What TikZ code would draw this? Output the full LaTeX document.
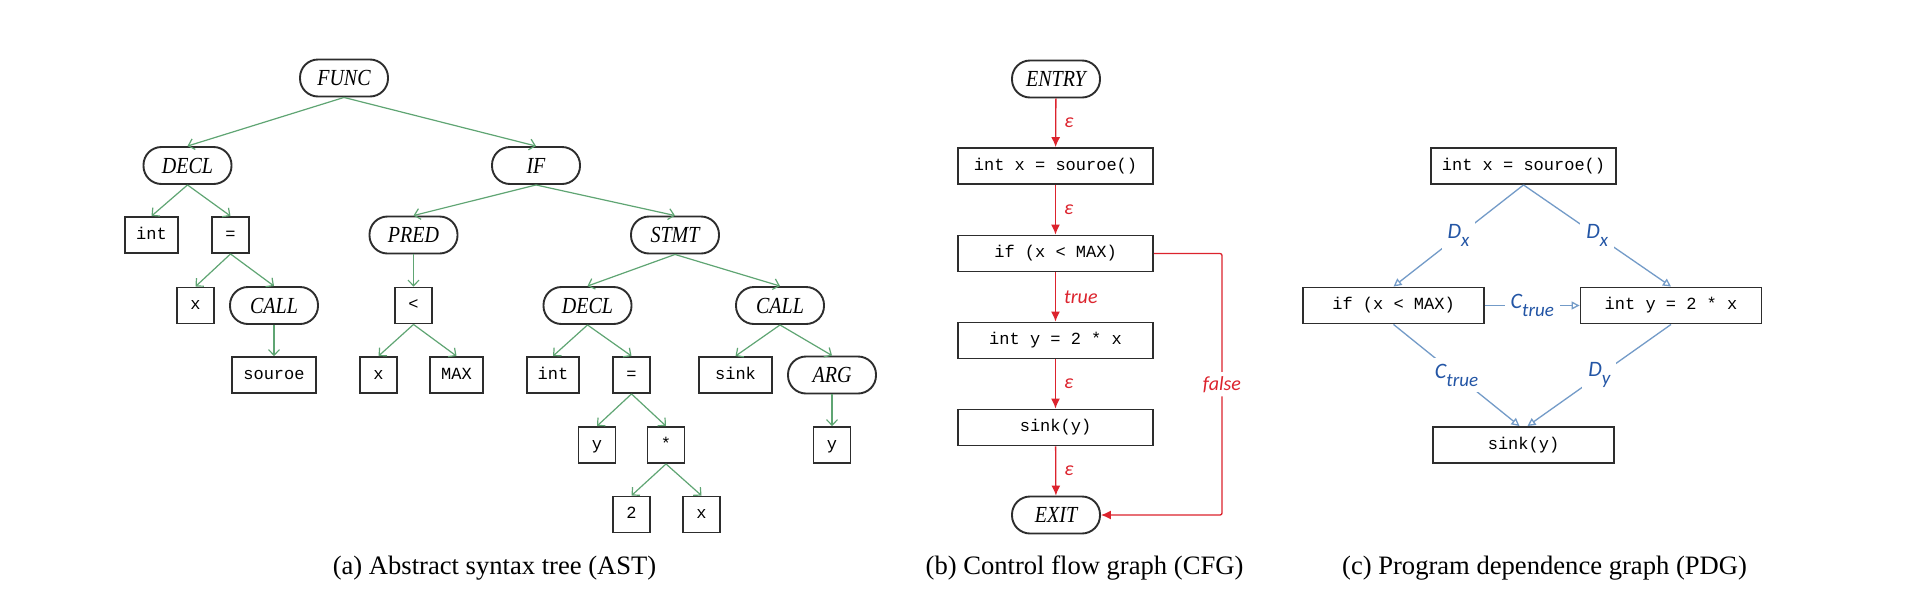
\documentclass[tikz,border=0pt]{standalone}
\usepackage{fontspec}
\setmainfont{Liberation Serif}
\newfontfamily\kwfont{Liberation Serif}[FakeStretch=0.87]
\newfontfamily\codefont{Liberation Mono}
\newfontfamily\lblfont{Carlito}
\usetikzlibrary{arrows.meta}
\definecolor{astgreen}{RGB}{95,165,115}
\definecolor{cfgred}{RGB}{220,35,45}
\definecolor{pdgline}{RGB}{115,155,200}
\definecolor{pdgtext}{RGB}{35,85,165}
\definecolor{boxline}{RGB}{45,45,45}
\newcommand\lblsub[2]{#1\raisebox{-4pt}{\fontsize{9.5}{9.5}\selectfont #2}}
\begin{document}
\begin{tikzpicture}[x=0.5pt,y=-0.5pt,
  base/.style={draw=boxline, line width=0.95pt, fill=white},
  kw/.style={base, rounded corners=9pt, minimum width=44pt, minimum height=18.5pt,
    inner sep=0pt, font=\kwfont\itshape\fontsize{11.5}{12}\selectfont},
  code/.style={base, minimum width=18.5pt, minimum height=18pt, inner xsep=5.5pt,
    inner ysep=0pt, text height=6pt, text depth=1.6pt,
    font=\codefont\fontsize{8.5}{10}\selectfont},
  cfgbox/.style={code, minimum width=97.5pt},
  pdgbox/.style={code, minimum width=90.5pt},
  astedge/.style={draw=astgreen, line width=0.6pt, -{Straight Barb[length=2.8pt,width=5.5pt]}},
  cfgedge/.style={draw=cfgred, line width=0.65pt, -{Latex[length=5pt,width=4.5pt]}},
  cfglbl/.style={text=cfgred, font=\lblfont\itshape\fontsize{10}{11}\selectfont, inner sep=1pt},
  pdgedge/.style={draw=pdgline, line width=0.65pt, -{Triangle[open,length=4pt,width=4pt]}},
  pdglbl/.style={text=pdgtext, fill=white, inner sep=3pt, font=\lblfont\itshape\fontsize{11}{11}\selectfont},
  captext/.style={font=\fontsize{13.3}{15}\selectfont, inner sep=0pt}
]
\fill[white] (0,0) rectangle (1920,600);
\useasboundingbox (0,0) rectangle (1920,600);

% ---------------- AST ----------------
\node[kw] (func) at (344,78) {FUNC};
\node[kw] (decl1) at (187.5,165.5) {DECL};
\node[kw] (if) at (536,165.5) {IF};
\node[code] (int1) at (151.5,235) {int};
\node[code] (eq1) at (230.5,235) {=};
\node[kw] (pred) at (413.5,235) {PRED};
\node[kw] (stmt) at (675,235) {STMT};
\node[code] (x1) at (195.5,305.5) {x};
\node[kw] (call1) at (274,305.5) {CALL};
\node[code] (lt) at (413.5,305.5) {<};
\node[kw] (decl2) at (587.5,305.5) {DECL};
\node[kw] (call2) at (780,305.5) {CALL};
\node[code] (src) at (274,375) {souroe};
\node[code] (x2) at (378.5,375) {x};
\node[code] (max) at (456.5,375) {MAX};
\node[code] (int2) at (553,375) {int};
\node[code] (eq2) at (631.5,375) {=};
\node[code, minimum width=36.5pt] (sink) at (735.5,375) {sink};
\node[kw] (arg) at (832,375) {ARG};
\node[code] (y1) at (597,445) {y};
\node[code] (star) at (666,445) {*};
\node[code] (y2) at (832,445) {y};
\node[code] (two) at (631.5,514.5) {2};
\node[code] (x3) at (701.5,514.5) {x};

\foreach \a/\b in {func/decl1, func/if, decl1/int1, decl1/eq1, eq1/x1, eq1/call1,
  call1/src, if/pred, if/stmt, pred/lt, lt/x2, lt/max, stmt/decl2, stmt/call2,
  decl2/int2, decl2/eq2, eq2/y1, eq2/star, star/two, star/x3, call2/sink,
  call2/arg, arg/y2}
  \draw[astedge] (\a.south) -- (\b.north);

% ---------------- CFG ----------------
\node[kw] (entry) at (1056,79) {ENTRY};
\node[cfgbox] (c1) at (1055.5,166) {int x = souroe()};
\node[cfgbox] (c2) at (1055.5,253.5) {if (x < MAX)};
\node[cfgbox] (c3) at (1055.5,340.5) {int y = 2 * x};
\node[cfgbox] (c4) at (1055.5,427.5) {sink(y)};
\node[kw] (exit) at (1056,515) {EXIT};
\coordinate (fa) at (1222,253.5);
\coordinate (fb) at (1222,515);

\draw[cfgedge] (entry) -- node[cfglbl, midway, right=3pt] {ε} (c1);
\draw[cfgedge] (c1) -- node[cfglbl, midway, right=3pt] {ε} (c2);
\draw[cfgedge] (c2) -- node[cfglbl, midway, right=3pt] {true} (c3);
\draw[cfgedge] (c3) -- node[cfglbl, midway, right=3pt] {ε} (c4);
\draw[cfgedge] (c4) -- node[cfglbl, midway, right=3pt] {ε} (exit);
\draw[cfgedge, rounded corners=1pt] (c2.east) -- (fa) --
  node[cfglbl, fill=white, inner sep=2pt] {false} (fb) -- (exit.east);

% ---------------- PDG ----------------
\node[pdgbox] (p1) at (1523.5,166) {int x = souroe()};
\node[pdgbox] (p2) at (1393.5,305.5) {if (x < MAX)};
\node[pdgbox] (p3) at (1671,305.5) {int y = 2 * x};
\node[pdgbox] (p4) at (1523.5,445) {sink(y)};

\draw[pdgedge] (p1.south) -- node[pdglbl] {\lblsub{D}{x}} (p2.north);
\draw[pdgedge] (p1.south) -- node[pdglbl] {\lblsub{D}{x}} (p3.north);
\draw[pdgedge] (p2.east) -- node[pdglbl] {\lblsub{C}{true}} (p3.west);
\draw[pdgedge] (p2.south) -- node[pdglbl] {\lblsub{C}{true}} ([xshift=-2pt]p4.north);
\draw[pdgedge] (p3.south) -- node[pdglbl] {\lblsub{D}{y}} ([xshift=2pt]p4.north);

% ---------------- captions ----------------
\node[captext] (capa) at (494.5,568) {(a) Abstract syntax tree (AST)};
\node[captext] (capb) at (1084.5,568) {(b) Control flow graph (CFG)};
\node[captext] (capc) at (1544.5,568) {(c) Program dependence graph (PDG)};
\end{tikzpicture}
\end{document}
